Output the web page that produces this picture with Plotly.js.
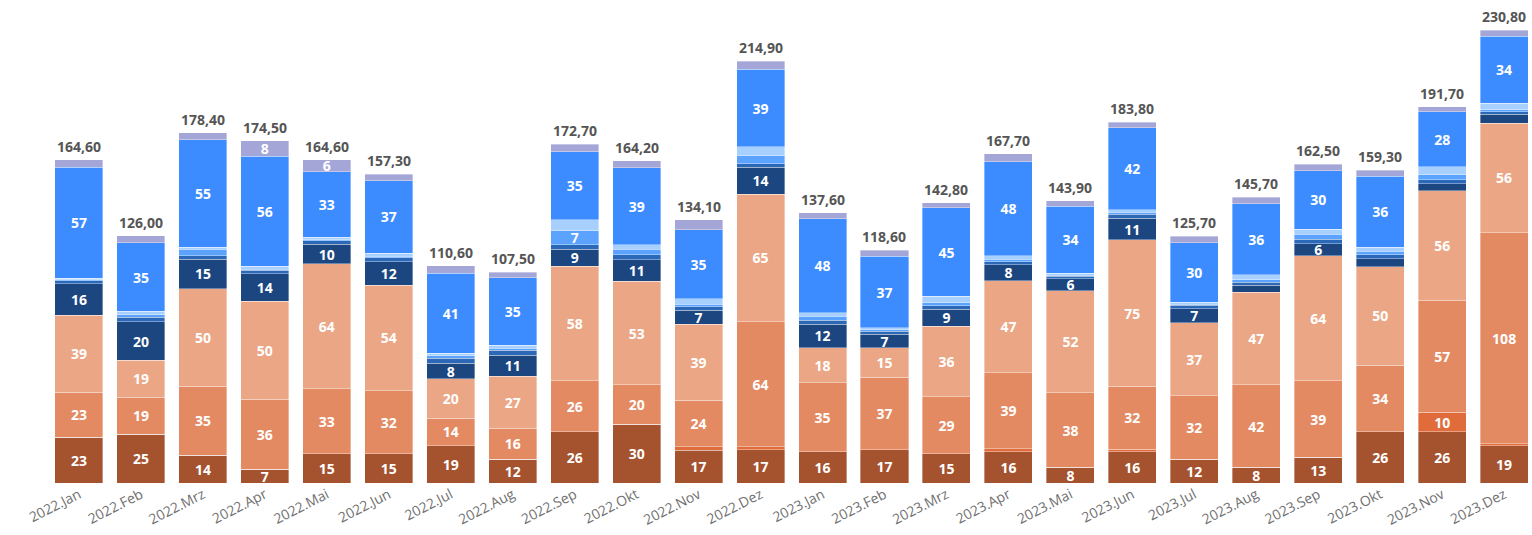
<!DOCTYPE html>
<html>
<head>
<meta charset="utf-8">
<script src="https://cdn.plot.ly/plotly-3.0.1.min.js"></script>
<style>html,body{margin:0;padding:0;background:#fff;}#chart{width:1532px;height:535px;}</style>
</head>
<body>
<div id="chart"></div>
<script>
var categories = ["2022.Jan","2022.Feb","2022.Mrz","2022.Apr","2022.Mai","2022.Jun","2022.Jul","2022.Aug","2022.Sep","2022.Okt","2022.Nov","2022.Dez",
                  "2023.Jan","2023.Feb","2023.Mrz","2023.Apr","2023.Mai","2023.Jun","2023.Jul","2023.Aug","2023.Sep","2023.Okt","2023.Nov","2023.Dez"];
var totals = [164.6,126.0,178.4,174.5,164.6,157.3,110.6,107.5,172.7,164.2,134.1,214.9,
              137.6,118.6,142.8,167.7,143.9,183.8,125.7,145.7,162.5,159.3,191.7,230.8];

// series, bottom to top
var seriesA = [23.2,24.8,14.2,7.0,15.0,15.0,19.0,12.0,26.2,30.0,16.8,17.0, 16.0,17.0,15.0,16.0,8.0,15.8,12.2,8.0,13.0,26.0,26.0,19.0];
var seriesB = [0,0,0,0,0,0,0,0,0,0,1.6,1.5, 0,0,0,1.5,0,1.5,0,0,0,0,10.0,1.0];
var seriesC = [23.1,18.9,35.0,35.7,33.0,32.0,14.0,15.8,26.0,20.0,23.8,63.6, 35.0,36.8,29.0,38.8,38.0,32.0,32.2,42.0,39.0,34.0,57.0,107.6];
var seriesD = [39.2,18.8,49.8,49.8,63.6,53.8,20.0,26.6,58.3,52.8,38.8,65.1, 18.0,15.0,35.8,46.8,52.0,74.6,37.2,47.3,63.8,50.2,55.9,55.8];
var seriesE = [16.1,19.6,15.0,14.0,10.0,12.0,8.0,10.8,8.6,11.0,7.0,13.8, 12.0,7.0,8.8,8.0,6.0,11.0,7.2,3.4,6.2,4.0,3.6,4.6];
var seriesF = [1.5,2.4,1.8,2.0,1.8,2.0,2.6,2.4,2.2,2.5,1.8,1.6, 2.0,1.6,1.8,1.6,1.4,2.0,1.8,1.6,2.2,2.2,2.0,1.2];
var seriesG = [0.5,1.2,3.2,0.5,0.5,0.8,1.2,1.0,7.2,2.8,1.2,4.2, 2.0,0.6,1.4,1.4,0.5,1.0,0.6,1.2,2.6,1.8,2.5,1.0];
var seriesH = [0.8,1.8,1.2,1.5,1.4,1.5,1.2,1.5,5.6,2.4,3.0,4.6, 1.8,1.0,3.4,1.6,1.1,1.2,1.0,2.5,2.6,2.0,4.2,3.2];
var seriesI = [56.6,34.8,54.6,56.0,33.2,36.9,40.8,34.6,34.8,39.0,35.0,39.3, 47.9,36.6,45.0,48.0,34.0,41.8,30.2,36.3,29.8,36.0,28.0,34.2];
var seriesJ = [3.6,3.7,3.6,8.0,6.1,3.3,3.8,2.8,3.8,3.7,5.1,4.2, 2.9,3.0,2.6,4.0,2.9,2.9,3.3,3.4,3.3,3.1,2.5,3.2];

var seriesList = [seriesA,seriesB,seriesC,seriesD,seriesE,seriesF,seriesG,seriesH,seriesI,seriesJ];
var seriesNames = ["A","B","C","D","E","F","G","H","I","J"];
var seriesColors = ["#A5522F","#E06C3C","#E48A63","#EBA785","#1B4680","#2C68B8","#5BA3FF","#A8D0FF","#3C8CFF","#A5A6D8"];

var FONT = "'Segoe UI', 'Open Sans', 'Noto Sans', sans-serif";
var traces = seriesList.map(function(vals, i){
  return {
    type: 'bar',
    name: seriesNames[i],
    x: categories,
    y: vals,
    marker: {color: seriesColors[i], line: {color: 'rgba(255,255,255,0.45)', width: 0.8}},
    text: vals.map(function(v){ return v >= 5.9 ? String(Math.round(v)) : ''; }),
    textposition: 'inside',
    insidetextanchor: 'middle',
    constraintext: 'none',
    textangle: 0,
    textfont: {family: FONT, size: 14, color: '#ffffff', weight: 'bold'},
    hoverinfo: 'x+y+name'
  };
});

var annotations = categories.map(function(c, i){
  return {
    x: c, y: totals[i], xref: 'x', yref: 'y',
    text: totals[i].toFixed(2).replace('.', ','),
    showarrow: false, yanchor: 'bottom', yshift: 2,
    font: {family: FONT, size: 14, color: '#555555', weight: 'bold'}
  };
});

var layout = {
  width: 1532, height: 535,
  barmode: 'stack',
  bargap: 0.225,
  showlegend: false,
  paper_bgcolor: '#ffffff',
  plot_bgcolor: '#ffffff',
  margin: {l: 48, r: 0, t: 10, b: 52},
  annotations: annotations,
  xaxis: {
    type: 'category',
    range: [-0.5, 23.45],
    tickangle: -27,
    tickfont: {family: FONT, size: 14, color: '#707070'},
    showgrid: false, zeroline: false, showline: false, ticks: ''
  },
  yaxis: {
    range: [0, 241],
    visible: false,
    showgrid: false, zeroline: false
  },
  font: {family: FONT}
};

Plotly.newPlot('chart', traces, layout, {displayModeBar: false, staticPlot: true});
</script>
</body>
</html>
